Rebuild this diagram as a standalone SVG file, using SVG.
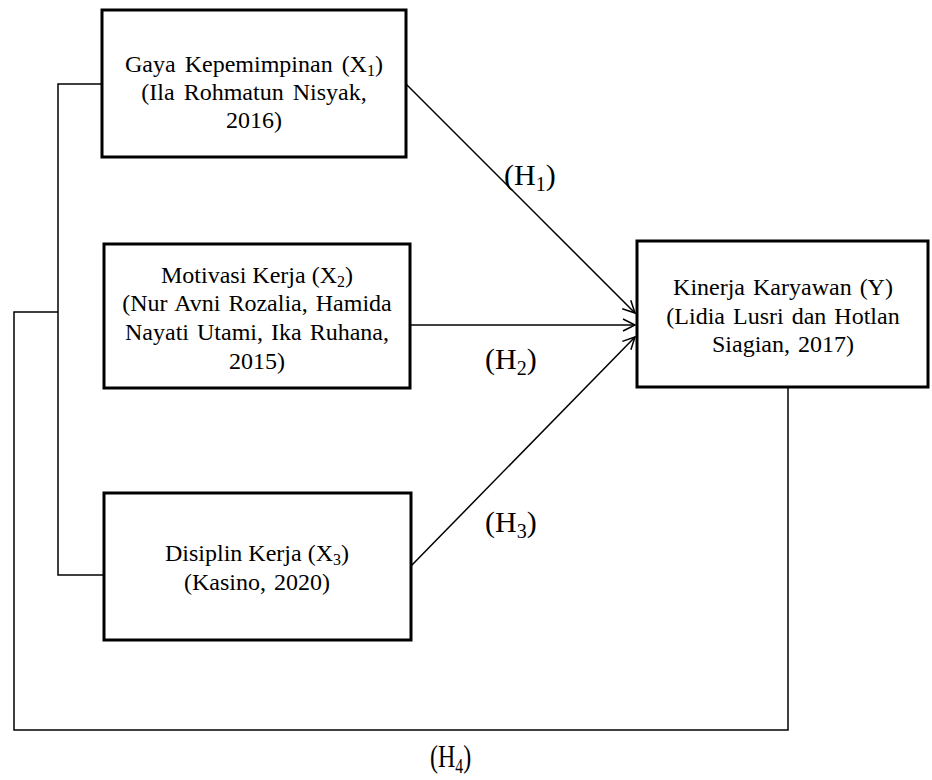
<svg xmlns="http://www.w3.org/2000/svg" width="932" height="780" viewBox="0 0 932 780">
<style>
.box{fill:#fff;stroke:#000;stroke-width:3}
.ln{fill:none;stroke:#000;stroke-width:1.5}
text{font-family:"Liberation Serif","Times New Roman",serif;fill:#000}
.t{font-size:24px;text-anchor:middle}
.h{font-size:30px}
.s{font-size:20px}
</style>
<defs>
<marker id="arr" markerUnits="userSpaceOnUse" markerWidth="16" markerHeight="16" refX="14" refY="8" orient="auto">
<path d="M2,2 L14,8 L2,14" fill="none" stroke="#000" stroke-width="1.5"/>
</marker>
</defs>
<rect width="932" height="780" fill="#fff"/>
<g id="connectors">
<polyline class="ln" points="102,84 58,84 58,575 104,575"/>
<polyline class="ln" points="58,312 14,312 14,730 788,730 788,387"/>
<line class="ln" x1="406" y1="84" x2="635" y2="313" marker-end="url(#arr)"/>
<line class="ln" x1="410" y1="325" x2="635" y2="325" marker-end="url(#arr)"/>
<line class="ln" x1="411" y1="566" x2="635" y2="337" marker-end="url(#arr)"/>
<text class="h" x="504" y="185">(H<tspan class="s" dy="6">1</tspan><tspan dy="-6">)</tspan></text>
<text class="h" x="485" y="369">(H<tspan class="s" dy="6">2</tspan><tspan dy="-6">)</tspan></text>
<text class="h" x="485" y="532">(H<tspan class="s" dy="6">3</tspan><tspan dy="-6">)</tspan></text>
<text transform="translate(430,767) scale(0.75,1)" style="font-size:32px">(H<tspan style="font-size:21px" dy="6">4</tspan><tspan dy="-6">)</tspan></text>
</g>
<g id="x1">
<rect class="box" x="102" y="10" width="304" height="147"/>
<text class="t" x="254" y="72" word-spacing="3">Gaya Kepemimpinan (X<tspan style="font-size:16px" dy="4">1</tspan><tspan dy="-4">)</tspan></text>
<text class="t" x="254" y="100" word-spacing="3">(Ila Rohmatun Nisyak,</text>
<text class="t" x="254" y="128">2016)</text>
</g>
<g id="x2">
<rect class="box" x="104" y="244" width="306" height="144"/>
<text class="t" x="257" y="283">Motivasi Kerja (X<tspan style="font-size:16px" dy="4">2</tspan><tspan dy="-4">)</tspan></text>
<text class="t" x="257" y="311" word-spacing="2">(Nur Avni Rozalia, Hamida</text>
<text class="t" x="257" y="340" word-spacing="2">Nayati Utami, Ika Ruhana,</text>
<text class="t" x="257" y="369">2015)</text>
</g>
<g id="x3">
<rect class="box" x="104" y="493" width="307" height="147"/>
<text class="t" x="257" y="561">Disiplin Kerja (X<tspan style="font-size:16px" dy="4">3</tspan><tspan dy="-4">)</tspan></text>
<text class="t" x="257" y="590" word-spacing="2">(Kasino, 2020)</text>
</g>
<g id="y">
<rect class="box" x="637" y="241" width="291" height="146"/>
<text class="t" x="783" y="295" word-spacing="2">Kinerja Karyawan (Y)</text>
<text class="t" x="783" y="324" word-spacing="2">(Lidia Lusri dan Hotlan</text>
<text class="t" x="783" y="352" word-spacing="2">Siagian, 2017)</text>
</g>
</svg>
